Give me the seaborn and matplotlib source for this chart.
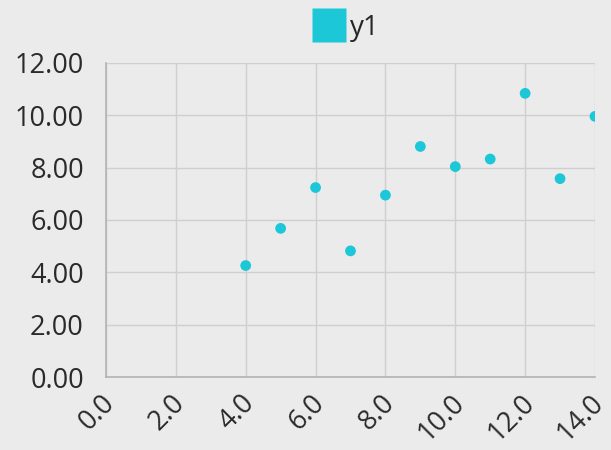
import matplotlib
matplotlib.use("Agg")
import matplotlib.pyplot as plt
import matplotlib.ticker as mticker
import matplotlib.transforms as mtransforms
import seaborn as sns
import pandas as pd

# data (anscombe set I)
x = [10, 8, 13, 9, 11, 14, 6, 4, 12, 7, 5]
y1 = [8.04, 6.95, 7.58, 8.81, 8.33, 9.96, 7.24, 4.26, 10.84, 4.82, 5.68]
series_name = "y1"
xticks = [0, 2, 4, 6, 8, 10, 12, 14]
yticks = [0, 2, 4, 6, 8, 10, 12]

df = pd.DataFrame({"x": x, "y": y1, "series": series_name})

sns.set_style("whitegrid")
plt.rcParams["font.family"] = ["Open Sans", "DejaVu Sans"]

bg = "#ebebeb"
col = "#1cc7d8"

fig = plt.figure(figsize=(6.11, 4.5), dpi=100, facecolor=bg)
ax = fig.add_axes([106 / 611, 1 - 377 / 450, (595 - 106) / 611, (377 - 63) / 450])
ax.set_facecolor(bg)

sns.scatterplot(data=df, x="x", y="y", hue="series", palette=[col],
                s=60, edgecolor="none", ax=ax, legend=False, zorder=3)

ax.set_xlim(0, 14)
ax.set_ylim(0, 12)
ax.set_xticks(xticks)
ax.set_yticks(yticks)
ax.xaxis.set_major_formatter(mticker.FormatStrFormatter("%.1f"))
ax.yaxis.set_major_formatter(mticker.FormatStrFormatter("%.2f"))
ax.tick_params(axis="both", labelsize=19.5, colors="#2a2a2a", length=0)
ax.tick_params(axis="y", pad=16)
ax.tick_params(axis="x", pad=16)
shift = mtransforms.ScaledTranslation(5 / 100, 0, fig.dpi_scale_trans)
for lab in ax.get_xticklabels():
    lab.set_rotation(45)
    lab.set_ha("right")
    lab.set_va("center")
    lab.set_rotation_mode("anchor")
    lab.set_transform(lab.get_transform() + shift)
ax.set_xlabel("")
ax.set_ylabel("")
ax.grid(True, color="#cfcfcf", linewidth=1)
for side in ["top", "right"]:
    ax.spines[side].set_visible(False)
for side in ["left", "bottom"]:
    ax.spines[side].set_color("#b3b3b3")
    ax.spines[side].set_linewidth(1.2)

handle = plt.Line2D([], [], marker="s", linestyle="none", markersize=25,
                    markerfacecolor=col, markeredgecolor="none")
fig.legend([handle], [series_name], loc="upper center", bbox_to_anchor=(0.565, 1.0),
           frameon=False, fontsize=20, handletextpad=0.1, handlelength=1.3, borderpad=0)

fig.savefig("out.png", dpi=100, facecolor=bg)
